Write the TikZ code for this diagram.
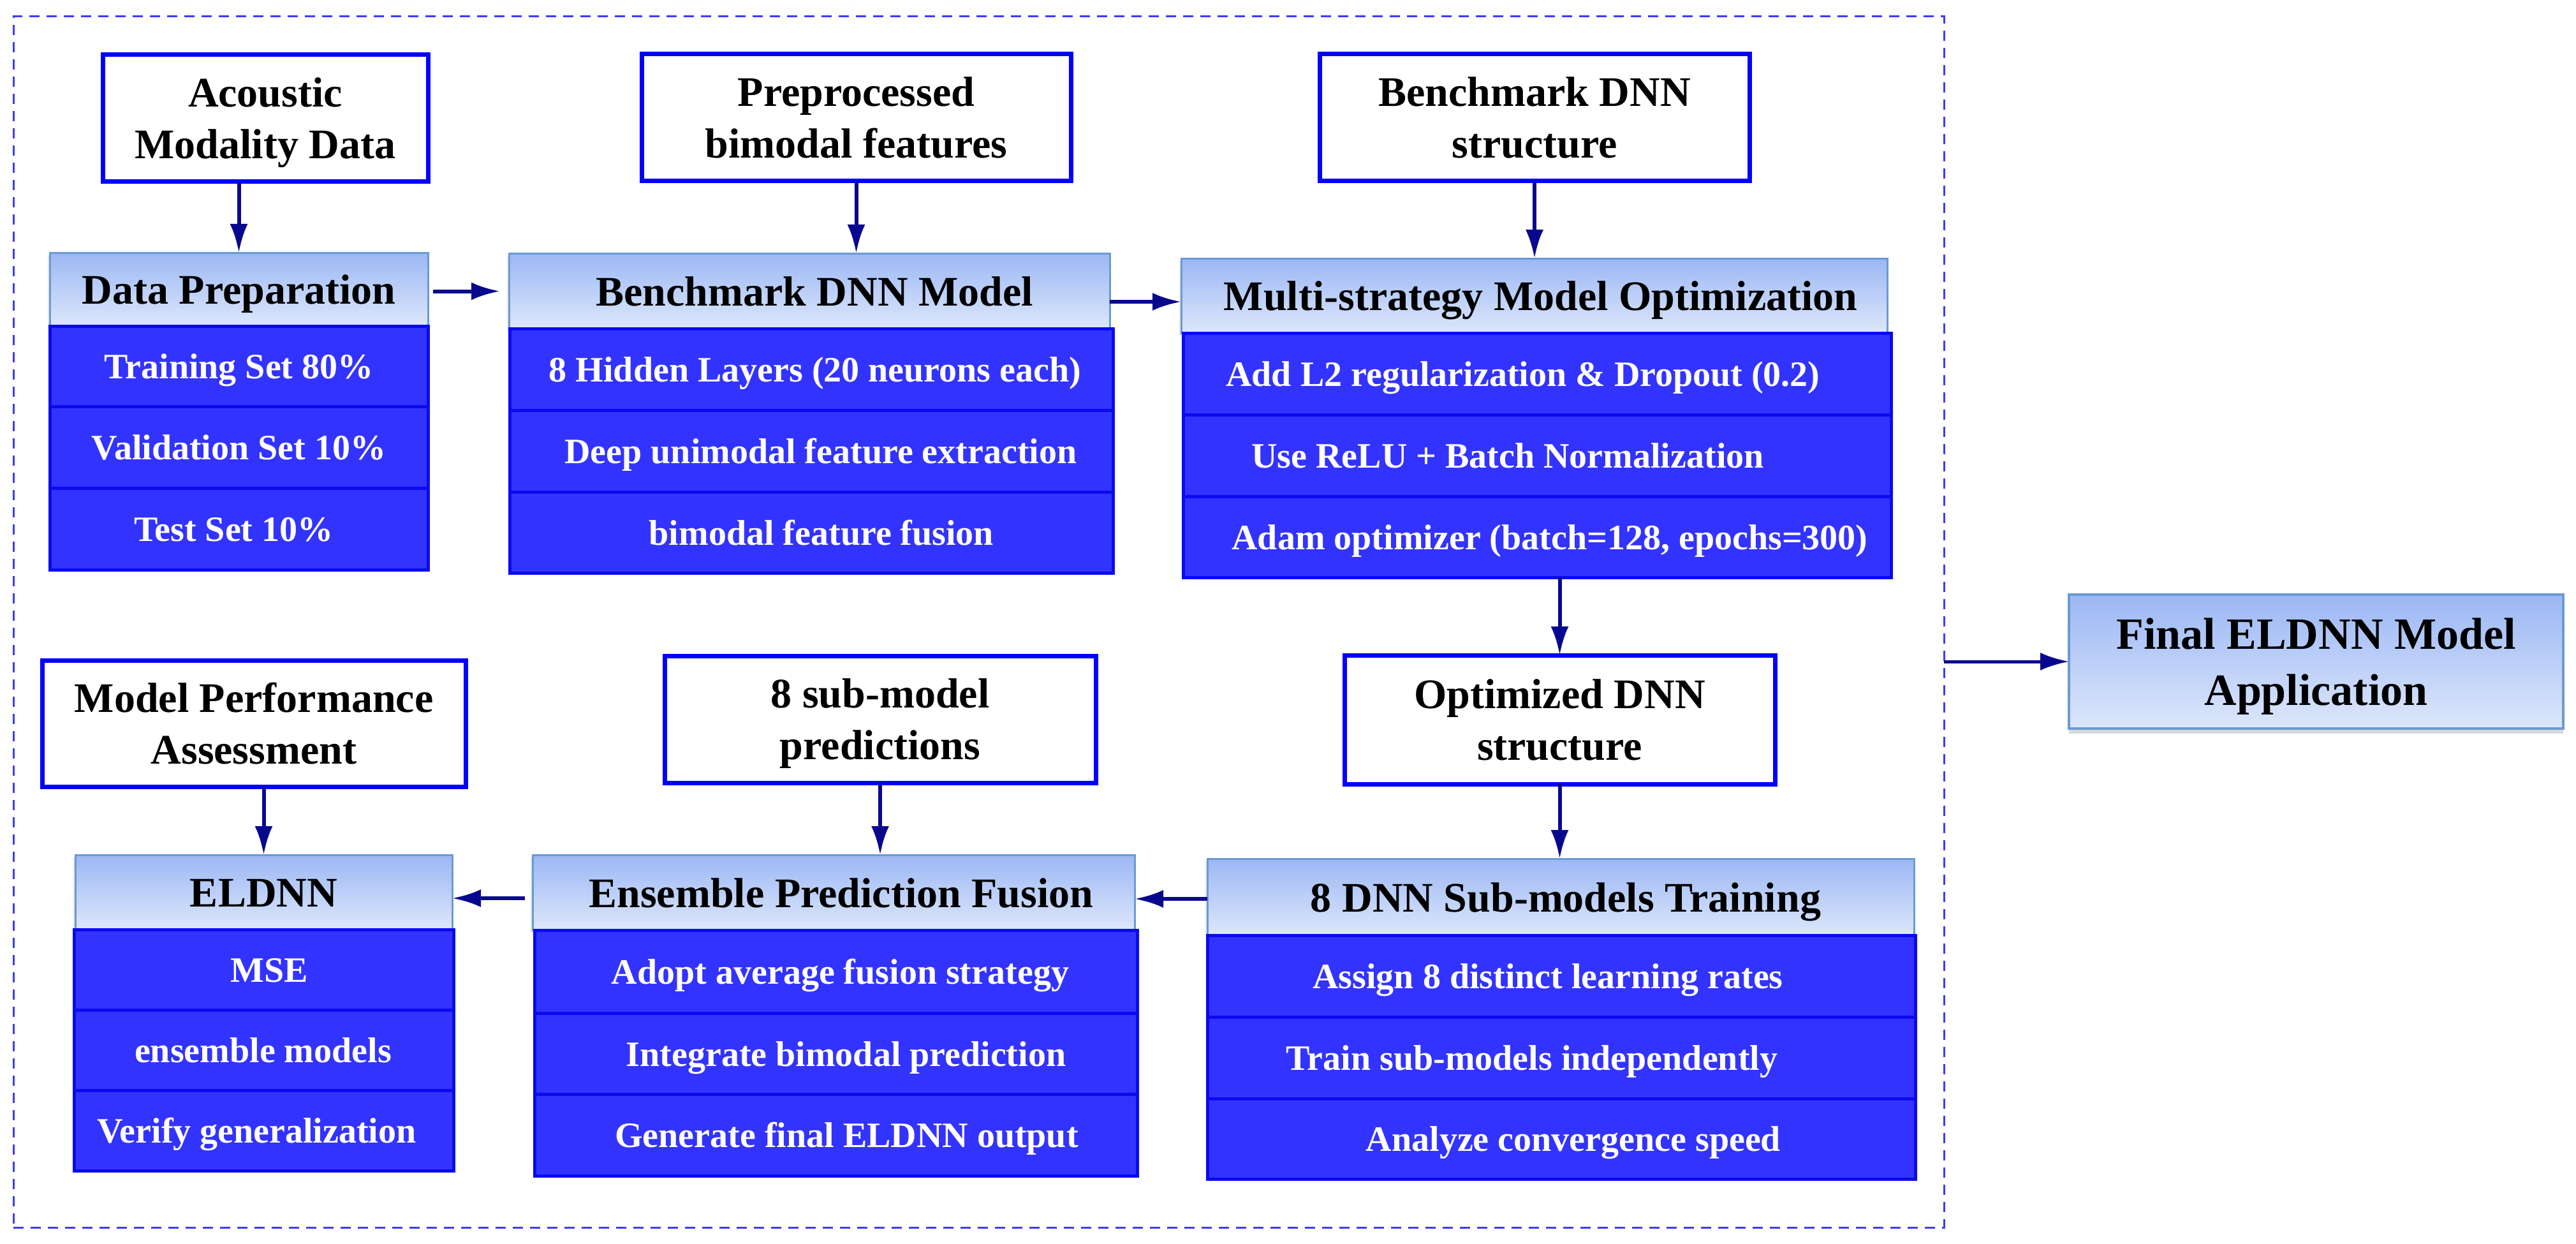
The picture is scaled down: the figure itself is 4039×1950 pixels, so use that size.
\documentclass[tikz,border=0pt]{standalone}
\usepackage{fontspec}
\setmainfont{Liberation Serif}
\usetikzlibrary{arrows.meta,shadows}
\definecolor{hdrtop}{HTML}{9BB7F4}
\definecolor{hdrbot}{HTML}{DDE7FB}
\definecolor{hdrline}{HTML}{6C9AD2}
\definecolor{rowfill}{HTML}{3333FF}
\definecolor{rowline}{HTML}{0A0AF0}
\definecolor{wbline}{HTML}{0000FF}
\definecolor{arrcol}{HTML}{08088F}
\definecolor{framecol}{HTML}{3B3BFF}
\newcommand\hdrfont{\fontsize{66}{81}\selectfont\bfseries}
\newcommand\rowfont{\fontsize{56}{66}\selectfont\bfseries}
\newcommand\wbfont{\fontsize{66}{81}\selectfont\bfseries}
\newcommand\finfont{\fontsize{70}{88}\selectfont\bfseries}
\newcommand\mkbox[8]{%
  \pgfmathsetmacro\bxcx{(#2+#4)/2}%
  \pgfmathsetmacro\bxcy{(#3+#5)/2}%
  \pgfmathsetmacro\bxw{#4-#2}%
  \pgfmathsetmacro\bxh{#5-#3}%
  \pgfmathsetmacro\bxtx{\bxcx+#8}%
  \node[#6, minimum width=\bxw pt, minimum height=\bxh pt] (#1) at (\bxcx,\bxcy) {};
  \node[#6text] (#1t) at (\bxtx,\bxcy) {#7};}
\tikzset{
  hdr/.style={draw=hdrline, line width=3pt, top color=hdrtop, bottom color=hdrbot,
    inner sep=0, outer sep=0, drop shadow={shadow xshift=-3pt, shadow yshift=-4pt, opacity=0.2}},
  hdrtext/.style={font=\hdrfont, text=black, text height=46pt, text depth=0pt, inner sep=0},
  row/.style={draw=rowline, line width=5pt, fill=rowfill, inner sep=0, outer sep=0},
  rowtext/.style={font=\rowfont, text=white, text height=39pt, text depth=0pt, inner sep=0},
  wb/.style={draw=wbline, line width=7pt, fill=white, inner sep=0, outer sep=0},
  wbtext/.style={font=\wbfont, text=black, align=center, text depth=0pt, inner sep=0},
  fin/.style={draw=hdrline, line width=4pt, top color=hdrtop, bottom color=hdrbot,
    inner sep=0, outer sep=0, drop shadow={shadow xshift=0pt, shadow yshift=-8pt, opacity=0.3}},
  fintext/.style={font=\finfont, text=black, align=center, text depth=0pt, inner sep=0},
  arr/.style={draw=arrcol, line width=6pt, -{Latex[length=45pt,width=28pt]}},
  frm/.style={draw=framecol, line width=3pt, dash pattern=on 16pt off 11pt, inner sep=0, outer sep=0}
}
\begin{document}
\begin{tikzpicture}[x=1pt, y=-1pt]
\useasboundingbox (0,0) rectangle (4039,1950);
% frame
\node[frm, minimum width=3027pt, minimum height=1898pt] (frame) at (1534.5,975) {};
% white boxes
\mkbox{ac}{161}{86}{671}{285}{wb}{Acoustic\\Modality Data}{0}
\mkbox{pre}{1006}{85}{1679}{284}{wb}{Preprocessed\\bimodal features}{0}
\mkbox{bs}{2069}{85}{2743}{284}{wb}{Benchmark DNN\\structure}{0}
\mkbox{opt}{2108}{1027}{2783}{1229}{wb}{Optimized DNN\\structure}{0}
\mkbox{sp}{1042}{1028}{1718}{1227}{wb}{8 sub-model\\predictions}{0}
\mkbox{mpa}{66}{1035}{730}{1233}{wb}{Model Performance\\Assessment}{0}
% Data preparation
\mkbox{dph}{78}{396}{671}{511}{hdr}{Data Preparation}{0}
\mkbox{d1}{78}{511}{671}{637}{row}{Training Set 80\%}{0}
\mkbox{d2}{78}{637}{671}{765}{row}{Validation Set 10\%}{0}
\mkbox{d3}{78}{765}{671}{893}{row}{Test Set 10\%}{-8}
% Benchmark DNN Model
\mkbox{bmh}{798}{397}{1740}{515}{hdr}{Benchmark DNN Model}{8}
\mkbox{b1}{799}{515}{1745}{643}{row}{8 Hidden Layers (20 neurons each)}{6}
\mkbox{b2}{799}{643}{1745}{771}{row}{Deep unimodal feature extraction}{15}
\mkbox{b3}{799}{771}{1745}{898}{row}{bimodal feature fusion}{16}
% Multi-strategy
\mkbox{mh}{1852}{405}{2959}{522}{hdr}{Multi-strategy Model Optimization}{10}
\mkbox{m1}{1855}{522}{2965}{650}{row}{Add L2 regularization \& Dropout (0.2)}{-22}
\mkbox{m2}{1855}{650}{2965}{778}{row}{Use ReLU + Batch Normalization}{-46}
\mkbox{m3}{1855}{778}{2965}{905}{row}{Adam optimizer (batch=128, epochs=300)}{20}
% 8 DNN sub-models
\mkbox{sh}{1893}{1346}{3001}{1466}{hdr}{8 DNN Sub-models Training}{8}
\mkbox{s1}{1893}{1466}{3003}{1594}{row}{Assign 8 distinct learning rates}{-21}
\mkbox{s2}{1893}{1594}{3003}{1722}{row}{Train sub-models independently}{-46}
\mkbox{s3}{1893}{1722}{3003}{1848}{row}{Analyze convergence speed}{19}
% Ensemble
\mkbox{ensh}{835}{1340}{1779}{1458}{hdr}{Ensemble Prediction Fusion}{12}
\mkbox{e1}{838}{1458}{1783}{1588}{row}{Adopt average fusion strategy}{7}
\mkbox{e2}{838}{1588}{1783}{1715}{row}{Integrate bimodal prediction}{16}
\mkbox{e3}{838}{1715}{1783}{1843}{row}{Generate final ELDNN output}{17}
% ELDNN
\mkbox{elh}{118}{1340}{709}{1457}{hdr}{ELDNN}{0}
\mkbox{l1}{116}{1457}{711}{1583}{row}{MSE}{9}
\mkbox{l2}{116}{1583}{711}{1709}{row}{ensemble models}{-1}
\mkbox{l3}{116}{1709}{711}{1835}{row}{Verify generalization}{-11}
% Final
\mkbox{fin}{3244}{932}{4019}{1142}{fin}{Final ELDNN Model\\Application}{0}
% arrows
\draw[arr] (dph.north |- ac.south) -- (dph.north);
\draw[arr, shorten <=8pt, shorten >=14pt] ([yshift=-3pt]dph.east) -- ([yshift=-3pt]dph.east -| bmh.west);
\draw[arr] (pre.south) -- (pre.south |- bmh.north);
\draw[arr] ([yshift=-17pt]bmh.east) -- ([yshift=-17pt]bmh.east -| mh.west);
\draw[arr] (bs.south) -- (bs.south |- mh.north);
\draw[arr] (opt.north |- m3.south) -- (opt.north);
\draw[arr] (opt.south) -- (opt.south |- sh.north);
\draw[arr] ([yshift=-3pt]sh.west) -- ([yshift=-3pt]sh.west -| ensh.east);
\draw[arr] (sp.south) -- (sp.south |- ensh.north);
\draw[arr, shorten <=12pt] ([yshift=-9pt]ensh.west) -- ([yshift=-9pt]ensh.west -| elh.east);
\draw[arr] (elh.north |- mpa.south) -- (elh.north);
\draw[arr, line width=5pt] (frame.east |- fin.west) -- (fin.west);
\end{tikzpicture}
\end{document}
